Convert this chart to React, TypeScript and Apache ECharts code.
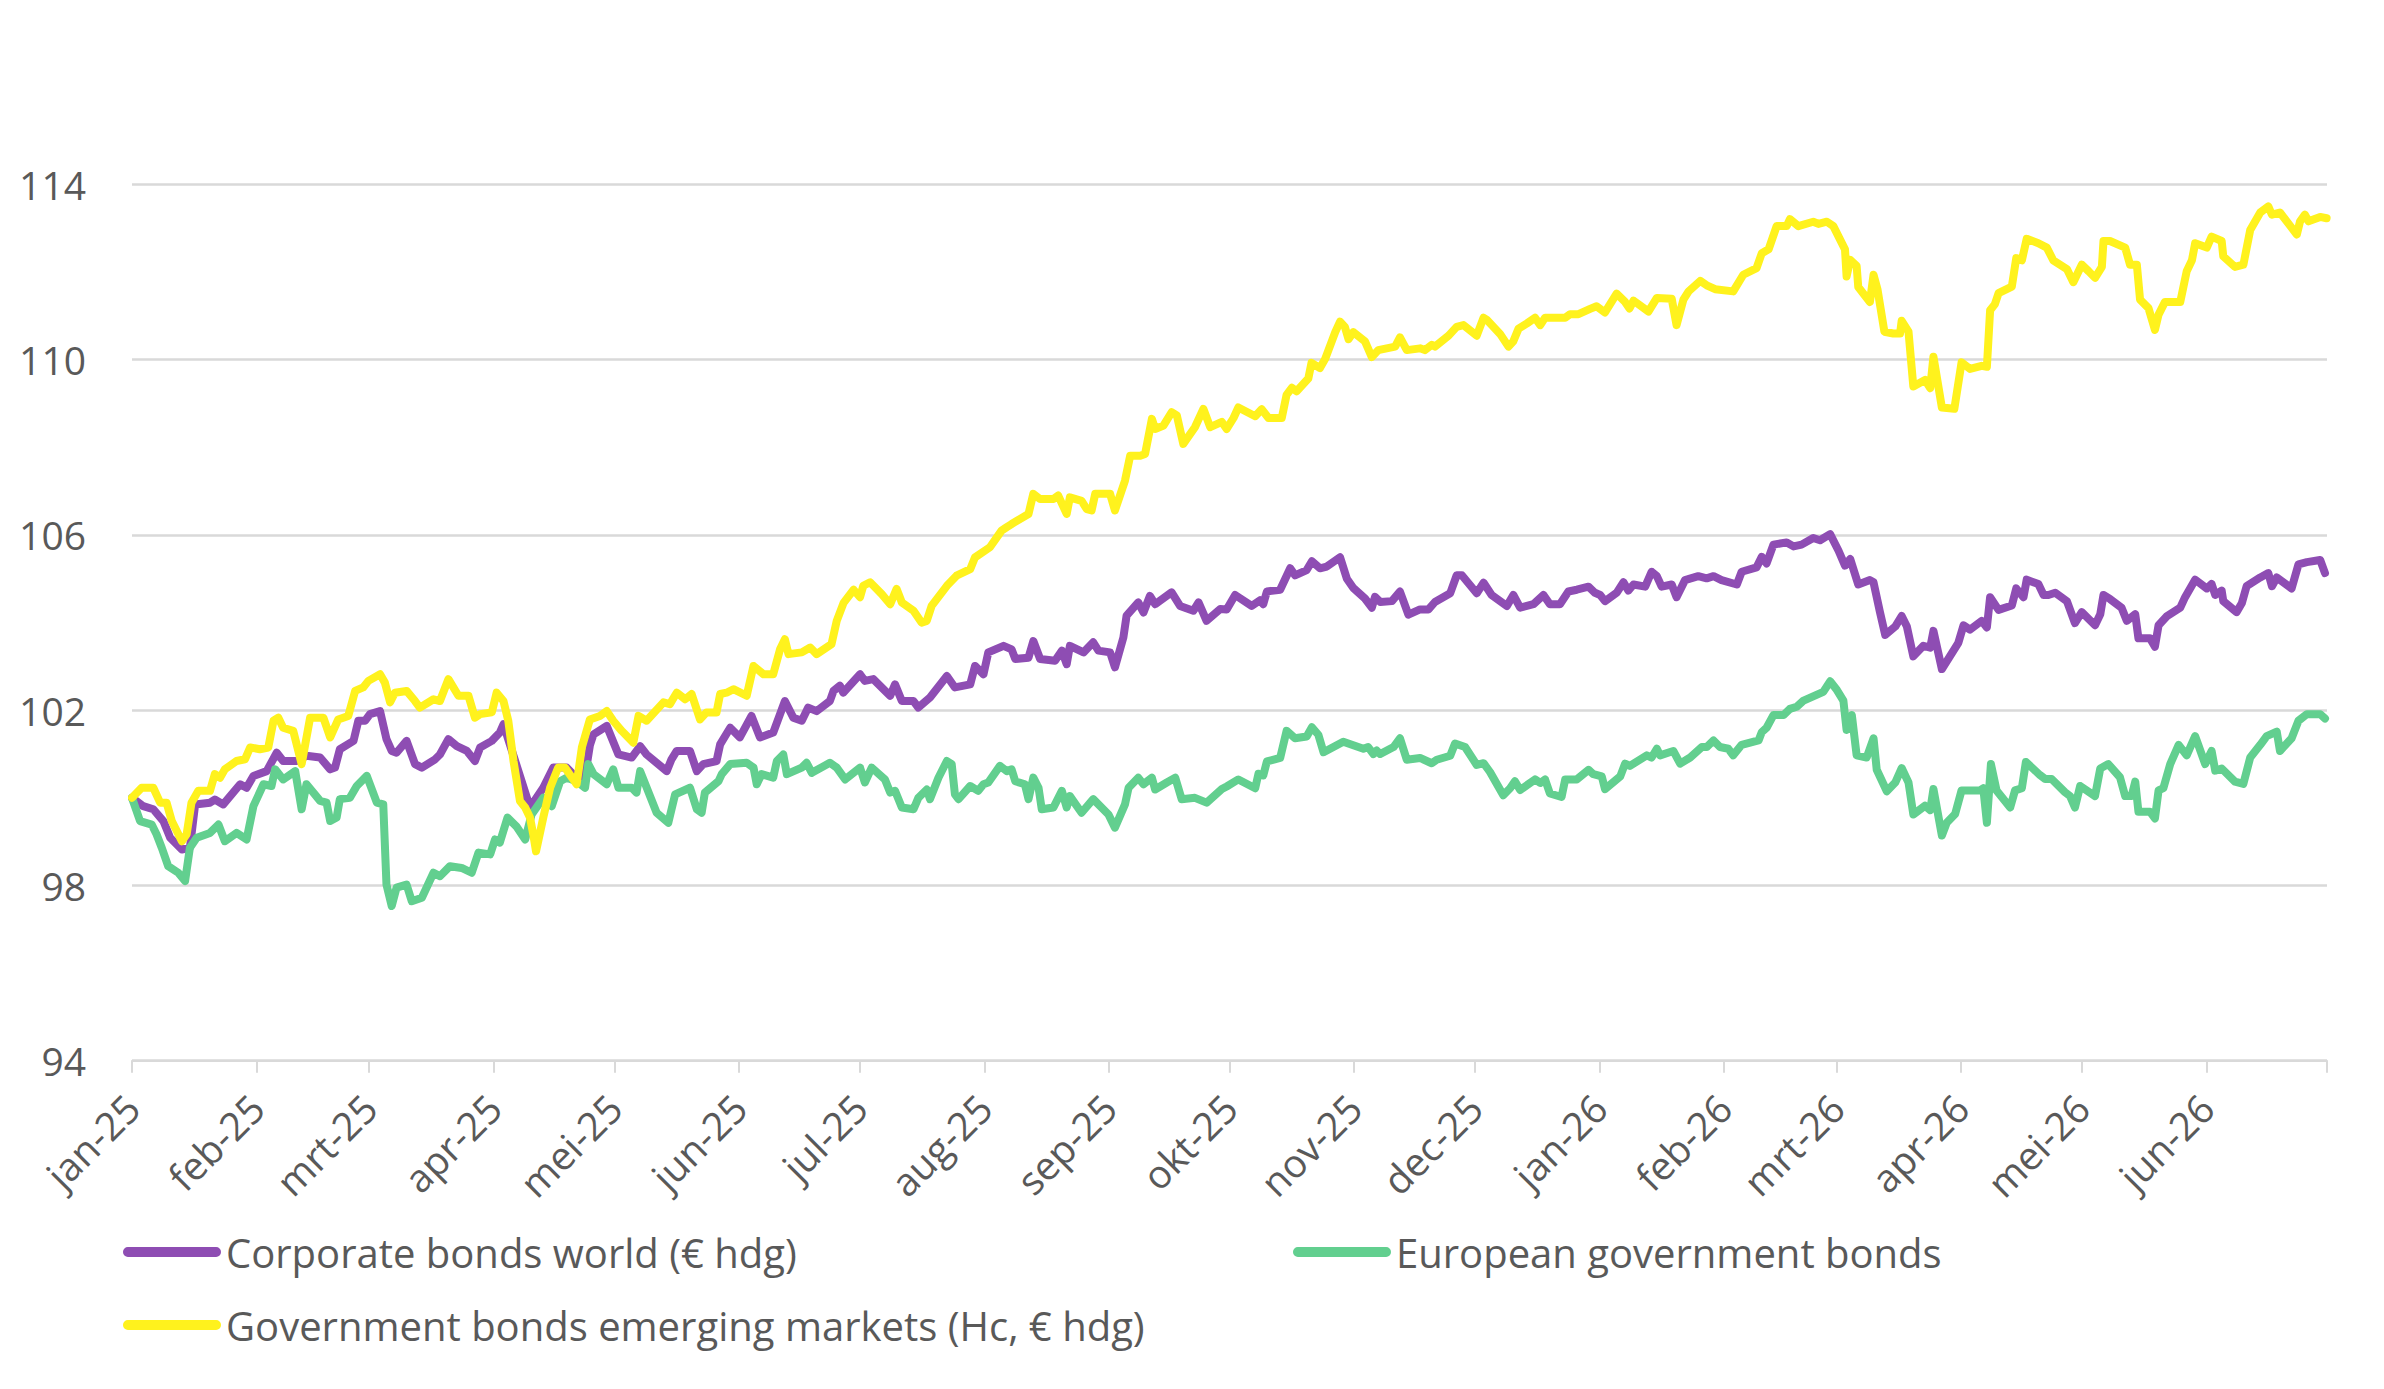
import React, { useEffect, useRef } from "react";
import * as echarts from "echarts";

// x = days since 1 Jan 2025, y = index value
const monthLabels = [
  "jan-25", "feb-25", "mrt-25", "apr-25", "mei-25", "jun-25", "jul-25", "aug-25", "sep-25",
  "okt-25", "nov-25", "dec-25", "jan-26", "feb-26", "mrt-26", "apr-26", "mei-26", "jun-26",
];
const yTicks = [94, 98, 102, 106, 110, 114];

const corporateName = "Corporate bonds world (€ hdg)";
const europeanName = "European government bonds";
const emergingName = "Government bonds emerging markets (Hc, € hdg)";

const corporatePoints: [number, number][] = [
  [0, 100.0], [2.8, 99.81], [5.3, 99.74], [7.8, 99.47], [9.5, 99.09], [12.4, 98.82], [14.4, 98.86],
  [15.7, 99.85], [19.4, 99.89], [20.6, 99.96], [22.7, 99.85], [26.9, 100.31], [28.5, 100.23],
  [30.2, 100.5], [33.5, 100.61], [36, 101.03], [37.6, 100.84], [41, 100.84], [43.4, 100.96],
  [46.8, 100.92], [49.3, 100.65], [50.5, 100.69], [51.7, 101.11], [55.1, 101.3], [56.3, 101.76],
  [58, 101.76], [59.2, 101.91], [61.7, 101.98], [63.3, 101.34], [64.6, 101.07], [65.8, 101.03],
  [68.3, 101.3], [70.4, 100.77], [72.1, 100.69], [75.4, 100.88], [76.6, 100.99], [78.7, 101.34],
  [80.8, 101.18], [83.3, 101.07], [85.3, 100.84], [86.6, 101.15], [89.5, 101.3], [91.5, 101.49],
  [92.4, 101.68], [99.0, 99.78], [102.3, 100.23], [104.8, 100.69], [108.1, 100.69], [110.6, 100.45],
  [112.7, 100.5], [113.9, 101.2], [114.8, 101.45], [118.1, 101.64], [121, 100.99], [124.3, 100.92],
  [126.4, 101.18], [128, 100.99], [133, 100.61], [134.2, 100.88], [135.5, 101.07], [138.8, 101.07],
  [140.5, 100.61], [142.1, 100.77], [145.4, 100.84], [146.3, 101.22], [148.8, 101.6], [151.2, 101.38],
  [154.1, 101.87], [156.2, 101.38], [159.5, 101.49], [162.4, 102.21], [164.5, 101.83], [166.6, 101.76],
  [168.2, 102.06], [170.3, 101.98], [173.6, 102.21], [174.5, 102.44], [176.1, 102.56], [176.9, 102.4],
  [181.1, 102.82], [182.3, 102.67], [184.4, 102.71], [186.9, 102.48], [188.6, 102.33], [189.8, 102.59],
  [191.5, 102.21], [194.4, 102.21], [195.6, 102.06], [198.5, 102.29], [202.7, 102.78], [204.7, 102.52],
  [208.5, 102.59], [209.7, 103.01], [211.8, 102.82], [213, 103.32], [216.8, 103.47], [218.8, 103.39],
  [219.7, 103.17], [223, 103.2], [224.2, 103.58], [225.9, 103.17], [229.6, 103.13], [231.3, 103.36],
  [232.5, 103.05], [233.3, 103.47], [236.7, 103.32], [239.1, 103.55], [240.4, 103.36], [243.3, 103.32],
  [244.5, 102.98], [246.6, 103.66], [247.4, 104.16], [250.3, 104.46], [251.6, 104.23], [253.2, 104.61],
  [254.5, 104.42], [258.6, 104.69], [260.7, 104.38], [264, 104.27], [265.3, 104.46], [267.3, 104.04],
  [270.7, 104.31], [272.3, 104.3], [274.4, 104.63], [278.5, 104.38], [280.6, 104.51], [281.4, 104.42],
  [282.3, 104.71], [285.6, 104.75], [288.1, 105.24], [289.3, 105.08], [292.2, 105.2], [293.5, 105.4],
  [295.5, 105.24], [297.2, 105.28], [300.5, 105.49], [302.2, 105.0], [303.8, 104.79], [306.7, 104.55],
  [308.4, 104.34], [309.2, 104.59], [310.5, 104.47], [313.4, 104.49], [315.4, 104.71], [317.5, 104.18],
  [320.4, 104.3], [322.5, 104.3], [324.1, 104.47], [327.9, 104.67], [329.5, 105.08], [330.8, 105.08],
  [334.5, 104.67], [336.2, 104.91], [338.2, 104.63], [342, 104.38], [343.6, 104.63], [345.3, 104.34],
  [348.6, 104.42], [351.1, 104.63], [352.7, 104.42], [355.2, 104.42], [357.3, 104.71], [359.4, 104.75],
  [362.3, 104.82], [363.9, 104.68], [365.2, 104.63], [366.4, 104.49], [369.3, 104.68], [371, 104.92],
  [372.2, 104.73], [373.5, 104.87], [376.4, 104.82], [378, 105.16], [379.3, 105.06], [380.5, 104.82],
  [383, 104.87], [384.2, 104.58], [386.3, 104.97], [389.6, 105.06], [391.7, 105.01], [393.4, 105.06],
  [395.4, 104.97], [399.2, 104.87], [400.4, 105.16], [404.1, 105.26], [405.4, 105.5], [406.6, 105.35],
  [408.3, 105.78], [411.6, 105.83], [413.3, 105.74], [415.3, 105.78], [418.2, 105.93], [419.9, 105.88],
  [422.4, 106.02], [424.5, 105.64], [426.1, 105.3], [427.4, 105.45], [429.4, 104.87], [432.3, 104.97],
  [433.2, 104.92], [434.8, 104.24], [436.1, 103.72], [438.6, 103.91], [440.2, 104.15], [441.5, 103.91],
  [443.1, 103.23], [445.6, 103.47], [447.3, 103.43], [448.1, 103.81], [450.2, 102.94], [454.3, 103.54],
  [455.6, 103.94], [457.2, 103.84], [460.1, 104.04], [461.4, 103.89], [462.2, 104.58], [464.3, 104.29],
  [467.6, 104.39], [468.7, 104.78], [470.5, 104.58], [471.3, 104.98], [474.2, 104.88], [475.5, 104.63],
  [476.7, 104.63], [478.4, 104.68], [481.3, 104.49], [483.3, 103.99], [485, 104.24], [488.3, 103.94],
  [489.6, 104.19], [490.4, 104.63], [492, 104.54], [494.9, 104.34], [496.2, 104.04], [498.3, 104.19],
  [499.1, 103.64], [502, 103.64], [503.2, 103.45], [504.1, 103.94], [506.1, 104.14], [509.5, 104.34],
  [510.7, 104.58], [513.2, 104.98], [516.1, 104.78], [517.3, 104.88], [518.2, 104.63], [519.8, 104.73],
  [520.2, 104.49], [523.5, 104.24], [524.8, 104.44], [526, 104.83], [529.4, 105.03], [531.4, 105.13],
  [532.3, 104.83], [533.5, 105.03], [537.2, 104.78], [538.9, 105.33], [541, 105.38], [544.3, 105.43],
  [545.5, 105.13],
];

const europeanPoints: [number, number][] = [
  [0, 100.0], [2, 99.47], [4.9, 99.39], [6.1, 99.17], [7.4, 98.86], [9, 98.44], [11.5, 98.29],
  [13.2, 98.1], [14.4, 98.86], [16.1, 99.09], [19.4, 99.2], [21.5, 99.39], [23.1, 99.01], [26, 99.2],
  [28.5, 99.05], [30.2, 99.81], [32.7, 100.31], [34.7, 100.27], [35.6, 100.65], [37.6, 100.42],
  [40.6, 100.61], [42.2, 99.74], [43.4, 100.31], [46.8, 99.93], [48.4, 99.89], [49.3, 99.47],
  [50.9, 99.55], [51.7, 99.97], [54.2, 100.0], [55.9, 100.27], [58.4, 100.5], [60.9, 99.89],
  [62.5, 99.85], [63.3, 98.02], [64.6, 97.53], [65.8, 97.95], [68.3, 98.02], [69.6, 97.64],
  [72.1, 97.72], [75, 98.29], [76.6, 98.21], [79.1, 98.44], [82, 98.4], [84.5, 98.29], [86.2, 98.75],
  [89.1, 98.71], [90.3, 99.05], [91.5, 98.98], [93.4, 99.55], [95.6, 99.35], [97.8, 99.05],
  [99.4, 99.62], [102.3, 100.0], [104.4, 99.81], [106.5, 100.38], [108.1, 100.46], [110.6, 100.38],
  [112.7, 100.23], [113.5, 100.77], [114.8, 100.54], [118.1, 100.31], [119.7, 100.65], [121, 100.23],
  [124.3, 100.23], [125.5, 100.12], [126.4, 100.61], [130.5, 99.66], [133.4, 99.43], [135.1, 100.08],
  [138.8, 100.23], [140.5, 99.74], [141.7, 99.66], [142.5, 100.12], [145.9, 100.38], [146.7, 100.54],
  [148.8, 100.77], [152.9, 100.8], [154.6, 100.69], [155.4, 100.31], [156.6, 100.54], [159.5, 100.46],
  [160.4, 100.84], [162, 100.99], [162.9, 100.54], [166.6, 100.69], [167.8, 100.8], [169.1, 100.57],
  [173.6, 100.8], [175.3, 100.69], [177.4, 100.42], [181.1, 100.69], [182.3, 100.35], [184, 100.69],
  [187.3, 100.42], [188.6, 100.12], [189.8, 100.16], [191.5, 99.78], [194.4, 99.74], [195.6, 100.0],
  [197.7, 100.19], [198.5, 99.97], [200.6, 100.46], [202.7, 100.84], [203.9, 100.77], [204.7, 100.08],
  [205.6, 99.97], [208.5, 100.27], [210.5, 100.16], [211.8, 100.31], [213, 100.35], [215.9, 100.73],
  [217.6, 100.61], [218.8, 100.65], [219.7, 100.38], [222.1, 100.31], [223, 99.97], [224.2, 100.46],
  [225.5, 100.23], [226.3, 99.74], [229.2, 99.78], [231.3, 100.16], [232.5, 99.78], [233.3, 100.04],
  [236.2, 99.66], [239.1, 99.97], [242.9, 99.62], [244.5, 99.32], [247, 99.85], [247.9, 100.23],
  [250.3, 100.46], [251.6, 100.31], [253.7, 100.46], [254.5, 100.19], [257.4, 100.35], [259.5, 100.46],
  [261.1, 99.97], [264.4, 100.0], [267.3, 99.89], [271.1, 100.2], [272.3, 100.26], [275.2, 100.42],
  [279.4, 100.22], [280.2, 100.55], [281.4, 100.51], [282.3, 100.83], [285.6, 100.91], [287.2, 101.53],
  [289.3, 101.36], [292.2, 101.4], [293.5, 101.61], [295.1, 101.44], [296.4, 101.04], [301.3, 101.28],
  [306.3, 101.12], [307.5, 101.16], [308.8, 101.0], [309.6, 101.08], [310.5, 101.0], [313.8, 101.16],
  [315.4, 101.36], [317.1, 100.87], [320.4, 100.91], [323.3, 100.79], [324.55, 100.87], [327.9, 100.96],
  [329.1, 101.24], [331.6, 101.16], [334.5, 100.75], [336.2, 100.79], [337.8, 100.59], [341.1, 100.06],
  [342.8, 100.22], [344, 100.38], [345.3, 100.18], [349, 100.42], [350.3, 100.34], [351.5, 100.42],
  [352.7, 100.1], [355.6, 100.02], [356.5, 100.42], [359.4, 100.42], [362.3, 100.64], [363.5, 100.54],
  [365.6, 100.49], [366.4, 100.2], [370.2, 100.49], [371.4, 100.78], [372.6, 100.73], [376.8, 100.97],
  [378, 100.92], [379.3, 101.12], [380.1, 100.97], [383.4, 101.07], [385.1, 100.78], [387.6, 100.92],
  [390.5, 101.16], [391.7, 101.16], [393.4, 101.31], [395, 101.16], [397.1, 101.12], [398.3, 100.97],
  [400.4, 101.21], [404.6, 101.31], [405.4, 101.5], [406.6, 101.6], [408.3, 101.89], [410.8, 101.89],
  [412.4, 102.03], [414.1, 102.08], [415.8, 102.22], [420.7, 102.42], [422.4, 102.66], [424.1, 102.46],
  [425.7, 102.22], [426.5, 101.55], [427.8, 101.89], [429, 100.97], [431.5, 100.92], [433.2, 101.36],
  [434, 100.64], [436.5, 100.15], [438.6, 100.35], [440.2, 100.68], [441.9, 100.35], [443.1, 99.62],
  [446, 99.82], [447.3, 99.72], [448.1, 100.2], [450.2, 99.14], [451.4, 99.43], [453.5, 99.63],
  [455.1, 100.17], [459.7, 100.17], [460.5, 100.22], [461.4, 99.43], [462.4, 100.77], [463.8, 100.17],
  [467.2, 99.78], [468.4, 100.17], [470.1, 100.22], [471.1, 100.82], [474.6, 100.52], [475.9, 100.43],
  [477.5, 100.43], [480.8, 100.13], [482.1, 100.04], [483.3, 99.78], [484.6, 100.27], [488.3, 100.04],
  [489.6, 100.67], [491.6, 100.77], [494.5, 100.47], [495.8, 100.04], [497.4, 100.04], [498.3, 100.37],
  [499.1, 99.68], [502, 99.68], [503.2, 99.53], [504.1, 100.17], [505.3, 100.22], [507, 100.77],
  [509.1, 101.21], [511.1, 100.97], [513.2, 101.41], [515.7, 100.77], [517.3, 101.07], [518.2, 100.62],
  [519.8, 100.67], [523.1, 100.37], [525.2, 100.32], [526.9, 100.92], [529.4, 101.21], [531, 101.41],
  [533.5, 101.51], [534.3, 101.07], [537.2, 101.36], [538.9, 101.76], [541, 101.91], [544.3, 101.91],
  [545.5, 101.81],
];

const emergingPoints: [number, number][] = [
  [0, 100.0], [2.4, 100.23], [5.3, 100.23], [7, 99.89], [8.6, 99.89], [9.9, 99.47], [12.4, 99.01],
  [13.6, 99.17], [14.8, 99.89], [16.5, 100.16], [19.4, 100.16], [20.6, 100.54], [21.9, 100.46],
  [23.1, 100.65], [26, 100.84], [28.1, 100.88], [29.4, 101.15], [31.8, 101.11], [33.9, 101.15],
  [35.2, 101.76], [36.4, 101.83], [37.6, 101.6], [40.1, 101.53], [42.2, 100.77], [44.3, 101.83],
  [47.6, 101.83], [49.3, 101.38], [51.3, 101.79], [53.8, 101.87], [55.5, 102.44], [57.5, 102.52],
  [58.8, 102.67], [61.7, 102.82], [62.9, 102.63], [64.2, 102.18], [65.4, 102.4], [68.3, 102.44],
  [70.4, 102.21], [71.6, 102.06], [75, 102.25], [76.6, 102.21], [78.7, 102.71], [81.2, 102.33],
  [83.7, 102.33], [85.3, 101.83], [86.6, 101.91], [89.5, 101.95], [90.7, 102.4], [92.4, 102.21],
  [93.6, 101.76], [94.9, 100.84], [96.5, 99.93], [97.8, 99.78], [99, 99.55], [99.8, 99.17],
  [100.5, 98.78], [102.3, 99.55], [104, 100.23], [106, 100.69], [107.7, 100.69], [110.6, 100.31],
  [111.9, 101.15], [113.9, 101.79], [116.4, 101.87], [118.1, 101.98], [119.7, 101.76], [121.8, 101.53],
  [124.7, 101.26], [126, 101.87], [128, 101.76], [132.2, 102.18], [133.8, 102.14], [135.5, 102.4],
  [137.6, 102.25], [139.2, 102.37], [141.3, 101.79], [142.9, 101.95], [145.4, 101.95], [146.3, 102.37],
  [147.9, 102.4], [149.6, 102.48], [152.9, 102.33], [154.6, 103.01], [157.1, 102.82], [159.5, 102.82],
  [161.2, 103.39], [162.4, 103.62], [163.3, 103.28], [166.6, 103.32], [168.7, 103.43], [170.3, 103.28],
  [174, 103.51], [175.3, 104.04], [177, 104.45], [179.5, 104.75], [181.1, 104.58], [181.9, 104.84],
  [183.6, 104.92], [186.5, 104.65], [188.6, 104.42], [190.2, 104.77], [191.5, 104.46], [194.4, 104.27],
  [196.4, 104.0], [197.7, 104.04], [198.9, 104.38], [202.7, 104.84], [205.1, 105.07], [208.5, 105.22],
  [209.7, 105.49], [213.4, 105.72], [216.3, 106.1], [217.6, 106.18], [218.8, 106.25], [223, 106.48],
  [224.2, 106.94], [225.9, 106.82], [229.2, 106.82], [230.4, 106.9], [232.5, 106.48], [233.3, 106.86],
  [236.2, 106.78], [237.5, 106.59], [238.7, 106.56], [239.6, 106.94], [243.3, 106.94], [244.5, 106.56],
  [247, 107.24], [248.3, 107.81], [250.8, 107.81], [252, 107.85], [253.7, 108.65], [254.5, 108.42],
  [256.6, 108.5], [258.6, 108.8], [259.9, 108.73], [261.5, 108.08], [264.4, 108.46], [266.5, 108.88],
  [268.2, 108.46], [271.1, 108.58], [272.3, 108.42], [274, 108.67], [275.2, 108.91], [279.4, 108.71],
  [281, 108.87], [282.7, 108.67], [286, 108.67], [287.2, 109.2], [288.5, 109.36], [289.7, 109.28],
  [292.6, 109.57], [293.4, 109.93], [295.5, 109.81], [296.8, 110.02], [299.3, 110.63], [300.5, 110.87],
  [301.7, 110.75], [302.6, 110.47], [303.8, 110.63], [306.7, 110.42], [308.4, 110.06], [310, 110.22],
  [314.2, 110.3], [315.4, 110.51], [317.1, 110.22], [320.4, 110.26], [321.6, 110.22], [323.3, 110.34],
  [324.1, 110.3], [327.5, 110.55], [329.5, 110.75], [331.2, 110.79], [334.5, 110.55], [336.2, 110.96],
  [337, 110.91], [340.3, 110.59], [342.4, 110.3], [343.6, 110.42], [344.9, 110.71], [347, 110.83],
  [349, 110.96], [350.3, 110.79], [351.5, 110.96], [356.5, 110.96], [357.7, 111.04], [359.8, 111.04],
  [362.7, 111.16], [364.3, 111.22], [366.4, 111.08], [369.3, 111.51], [371.4, 111.32], [372.5, 111.17],
  [373.5, 111.35], [377.2, 111.1], [379.3, 111.41], [383, 111.39], [384.2, 110.79], [385.9, 111.37],
  [387.2, 111.56], [390.1, 111.8], [391.7, 111.7], [393.8, 111.61], [398.3, 111.56], [400.8, 111.94],
  [404.1, 112.09], [405.4, 112.43], [407.1, 112.52], [409.1, 113.05], [411.6, 113.05], [412.4, 113.21],
  [414.5, 113.05], [418.2, 113.15], [419.5, 113.1], [421.6, 113.15], [423.2, 113.05], [426.1, 112.52],
  [426.5, 111.9], [427.4, 112.28], [429, 112.14], [429.4, 111.66], [432.3, 111.32], [433.2, 111.94],
  [434.2, 111.6], [435.9, 110.64], [438.1, 110.6], [439.8, 110.6], [440.2, 110.89], [441.9, 110.64],
  [443.1, 109.39], [446, 109.54], [447.3, 109.35], [448.1, 110.07], [450.2, 108.91], [453.3, 108.88],
  [455.1, 109.94], [457.2, 109.79], [460.1, 109.86], [461.4, 109.84], [462.2, 111.13], [463.4, 111.27],
  [464.3, 111.52], [467.6, 111.67], [468.7, 112.32], [470.1, 112.27], [471.3, 112.76], [474.2, 112.66],
  [476.3, 112.56], [477.9, 112.27], [481.3, 112.07], [482.9, 111.77], [485, 112.17], [486.7, 112.02],
  [488.3, 111.87], [490, 112.12], [490.4, 112.71], [492, 112.71], [495.8, 112.56], [497, 112.17],
  [498.7, 112.17], [499.5, 111.37], [501.6, 111.18], [503.2, 110.68], [504.1, 111.03], [505.7, 111.32],
  [509.5, 111.32], [511.1, 112.02], [512.4, 112.27], [513.2, 112.66], [516.1, 112.56], [517.3, 112.81],
  [519.8, 112.71], [520.2, 112.36], [523.1, 112.12], [525.2, 112.17], [526.9, 112.96], [529.4, 113.36],
  [531.4, 113.5], [532.3, 113.31], [534.3, 113.36], [536.8, 113.06], [538.5, 112.86], [539.3, 113.16],
  [540.5, 113.31], [541.4, 113.16], [544.3, 113.26], [545.9, 113.23],
];

const DAY = 86400000;
const START = Date.UTC(2025, 0, 1);
const monthStartDays = Array.from({ length: 19 }, (_, i) => Math.round((Date.UTC(2025, i, 1) - START) / DAY));

const TEXT = "#595959";
const GRID = "#d9d9d9";
const FONT = "'Open Sans', 'Noto Sans', sans-serif";
const PURPLE = "#8e4db3";
const GREEN = "#62cf8f";
const YELLOW = "#fff21d";
const CAPSULE = "path://M5,0 L95,0 A5,5 0 0 1 95,10 L5,10 A5,5 0 0 1 5,0 Z";

export default function App() {
  const ref = useRef<HTMLDivElement>(null);
  useEffect(() => {
    if (!ref.current) return;
    const chart = echarts.init(ref.current, null, { renderer: "svg" });
    const legendBase = {
      orient: "horizontal",
      icon: CAPSULE,
      itemWidth: 98,
      itemHeight: 10,
      selectedMode: false,
      padding: 0,
      textStyle: { fontSize: 40, color: TEXT, fontFamily: FONT, lineHeight: 48 },
    };
    const lineSeries = (name: string, color: string, pts: [number, number][]) => ({
      name,
      type: "line",
      data: pts,
      showSymbol: false,
      symbol: "none",
      color,
      lineStyle: { color, width: 8, join: "round", cap: "round" },
      emphasis: { disabled: true },
    });
    chart.setOption({
      animation: false,
      backgroundColor: "#ffffff",
      textStyle: { fontFamily: FONT },
      grid: { left: 132, right: 57, top: 184.5, bottom: 328.3, containLabel: false, outerBoundsMode: "none" },
      legend: [
        { ...legendBase, data: [corporateName], left: 123, top: 1228 },
        { ...legendBase, data: [europeanName], left: 1293, top: 1228 },
        { ...legendBase, data: [emergingName], left: 123, top: 1301 },
      ],
      xAxis: {
        type: "value",
        min: 0,
        max: monthStartDays[18],
        axisLine: { show: true, lineStyle: { color: GRID, width: 2 } },
        axisTick: { show: true, length: 12, lineStyle: { color: GRID, width: 2 }, customValues: monthStartDays },
        axisLabel: {
          customValues: monthStartDays.slice(0, 18),
          formatter: (v: number) => {
            const i = monthStartDays.indexOf(Math.round(v));
            return i >= 0 && i < monthLabels.length ? monthLabels[i] : "";
          },
          rotate: 45,
          margin: 40,
          fontSize: 39,
          color: TEXT,
          fontFamily: FONT,
        },
        splitLine: { show: false },
      },
      yAxis: {
        type: "value",
        min: yTicks[0],
        max: yTicks[yTicks.length - 1],
        interval: 4,
        axisLine: { show: false },
        axisTick: { show: false },
        axisLabel: { fontSize: 39, color: TEXT, margin: 46, fontFamily: FONT },
        splitLine: { lineStyle: { color: GRID, width: 2.5 } },
      },
      series: [
        lineSeries(corporateName, PURPLE, corporatePoints),
        lineSeries(europeanName, GREEN, europeanPoints),
        lineSeries(emergingName, YELLOW, emergingPoints),
      ],
    });
    return () => chart.dispose();
  }, []);
  return (
    <div
      ref={ref}
      style={{ position: "fixed", left: 0, top: 0, width: 2384, height: 1389, background: "#fff" }}
    />
  );
}
